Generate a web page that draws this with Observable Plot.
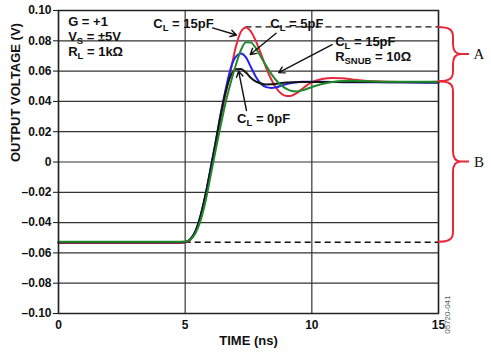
<!DOCTYPE html>
<html><head><meta charset="utf-8">
<script src="https://cdn.jsdelivr.net/npm/d3@7"></script>
<script src="https://cdn.jsdelivr.net/npm/@observablehq/plot@0.6"></script>
<style>
html,body{margin:0;padding:0;background:#fff;}
#chart{width:491px;height:358px;}
</style></head>
<body><div id="chart"></div>
<script>
// ---- data ----
const time = [0, 4.8, 5.0, 5.2, 5.4, 5.6, 5.8, 6.0, 6.2, 6.4, 6.6, 6.8, 7.0, 7.2, 7.4, 7.6, 7.8, 8.0, 8.2, 8.4, 8.6, 8.8, 9.0, 9.2, 9.4, 9.6, 9.8, 10.0, 10.4, 10.8, 11.2, 11.6, 12, 13, 14, 15];
const cl0pF = [-0.0530, -0.0530, -0.0528, -0.0510, -0.0460, -0.0360, -0.0220, -0.0050, 0.0125, 0.0310, 0.0465, 0.0570, 0.0612, 0.0614, 0.0590, 0.0555, 0.0530, 0.0518, 0.0512, 0.0513, 0.0517, 0.0521, 0.0524, 0.0526, 0.0527, 0.0528, 0.0528, 0.0528, 0.0528, 0.0528, 0.0528, 0.0528, 0.0528, 0.0527, 0.0527, 0.0527];
const cl5pF = [-0.0530, -0.0530, -0.0528, -0.0510, -0.0458, -0.0358, -0.0218, -0.0045, 0.0130, 0.0315, 0.0480, 0.0620, 0.0695, 0.0716, 0.0690, 0.0625, 0.0560, 0.0515, 0.0494, 0.0489, 0.0494, 0.0504, 0.0514, 0.0521, 0.0526, 0.0529, 0.0530, 0.0530, 0.0529, 0.0528, 0.0527, 0.0527, 0.0527, 0.0526, 0.0525, 0.0523];
const cl15pF = [-0.0534, -0.0534, -0.0532, -0.0515, -0.0465, -0.0368, -0.0230, -0.0060, 0.0115, 0.0290, 0.0455, 0.0605, 0.0760, 0.0860, 0.0888, 0.0860, 0.0795, 0.0710, 0.0620, 0.0545, 0.0487, 0.0450, 0.0436, 0.0438, 0.0455, 0.0480, 0.0506, 0.0526, 0.0548, 0.0555, 0.0552, 0.0545, 0.0538, 0.0530, 0.0528, 0.0530];
const cl15pFsnub = [-0.0526, -0.0526, -0.0525, -0.0512, -0.0472, -0.0390, -0.0262, -0.0095, 0.0075, 0.0240, 0.0395, 0.0525, 0.0640, 0.0738, 0.0790, 0.0788, 0.0748, 0.0692, 0.0635, 0.0582, 0.0538, 0.0505, 0.0482, 0.0469, 0.0466, 0.0471, 0.0482, 0.0495, 0.0515, 0.0528, 0.0535, 0.0536, 0.0534, 0.0530, 0.0530, 0.0529];

const seriesNames = ["CL = 15pF", "CL = 5pF", "CL = 0pF", "CL = 15pF, RSNUB = 10Ω"];
const seriesValues = [cl15pF, cl5pF, cl0pF, cl15pFsnub];
const seriesColors = ["#e8283a", "#2323f0", "#151515", "#1f8a2c"];

const xTicks = [0, 5, 10, 15];
const yTicks = [-0.10, -0.08, -0.06, -0.04, -0.02, 0, 0.02, 0.04, 0.06, 0.08, 0.10];
const stepTime = 5;
const settledLevel = 0.053;

const condLines = ["G = +1", "V_{S} = ±5V", "R_{L} = 1kΩ"];
const condX = [0.38, 0.38, 0.38];
const condY = [0.0926, 0.0828, 0.0730];

const noteText = ["C_{L} = 15pF", "C_{L} = 5pF", "C_{L} = 15pF", "R_{SNUB} = 10Ω", "C_{L} = 0pF"];
const noteX = [3.74, 8.36, 10.92, 10.92, 7.05];
const noteY = [0.0914, 0.0914, 0.0795, 0.0695, 0.0287];
const noteHalo = [false, false, true, true, false];

const arrowFromX = [6.08, 8.59, 10.80, 7.42];
const arrowFromY = [0.0885, 0.0850, 0.0775, 0.0340];
const arrowToX = [7.02, 7.57, 8.69, 7.11];
const arrowToY = [0.0838, 0.0710, 0.0590, 0.0600];

const braceLabels = ["A", "B"];
const yLabel = "OUTPUT VOLTAGE (V)";
const xLabel = "TIME (ns)";
const figCode = "05720-041";

// ---- derived tables ----
const peakIdx = d3.maxIndex(cl15pF);
const peakLevel = cl15pF[peakIdx];
const peakTime = time[peakIdx];
const baseLevel = cl15pF[0] + 0.0004;

const lineMarks = seriesValues.map((vals, k) =>
  Plot.line(vals.map((v, i) => ({t: time[i], v})), {
    x: "t", y: "v", stroke: seriesColors[k], strokeWidth: 2, curve: "monotone-x"
  })
);
const conds = condLines.map((s, i) => ({s, x: condX[i], y: condY[i]}));
const notes = noteText.map((s, i) => ({s, x: noteX[i], y: noteY[i], halo: noteHalo[i]}));
const haloed = conds.concat(notes.filter(d => d.halo));
const plain = notes.filter(d => !d.halo);
const arrows = arrowFromX.map((x1, i) => ({x1, y1: arrowFromY[i], x2: arrowToX[i], y2: arrowToY[i]}));

const yFmt = d => d === 0 ? "0" : (d < 0 ? "\u2013" : "") + Math.abs(d).toFixed(2);
const grid = {stroke: "#333", strokeOpacity: 1, strokeWidth: 1.2};
const txt = {x: "x", y: "y", text: "s", textAnchor: "start", fontSize: 13, fontWeight: "bold", fill: "#111"};

const plot = Plot.plot({
  width: 491, height: 358,
  marginLeft: 58, marginRight: 53, marginTop: 10, marginBottom: 45,
  x: {domain: [0, 15]},
  y: {domain: [-0.10, 0.10]},
  style: {fontFamily: "'Liberation Sans', Arial, Helvetica, sans-serif", fontSize: "12px", fontWeight: "bold", background: "white", color: "#111"},
  marks: [
    Plot.gridX(xTicks, grid),
    Plot.gridY(yTicks, grid),
    Plot.axisX(xTicks, {tickSize: 0, tickPadding: 7, tickFormat: d => String(d), label: null}),
    Plot.axisY(yTicks, {tickSize: 5, tickPadding: 2, tickFormat: yFmt, label: null}),
    Plot.text([yLabel], {frameAnchor: "left", dx: -43, rotate: -90, fontSize: 13, fontWeight: "bold"}),
    Plot.text([xLabel], {frameAnchor: "bottom", dy: 31, fontSize: 13, fontWeight: "bold"}),
    Plot.text([figCode], {frameAnchor: "bottom-right", dx: 11, dy: -18, rotate: -90, fontSize: 8, fontWeight: "normal", fill: "#555"}),
    Plot.ruleY([baseLevel], {x1: stepTime, x2: 15, stroke: "#111", strokeWidth: 1.4, strokeDasharray: "6,4"}),
    Plot.ruleY([peakLevel + 0.0004], {x1: peakTime, x2: 15, stroke: "#111", strokeWidth: 1.4, strokeDasharray: "6,4"}),
    ...lineMarks,
    Plot.text(haloed, {...txt, ariaLabel: "halo-text"}),
    Plot.text(plain, txt),
    Plot.arrow(arrows, {x1: "x1", y1: "y1", x2: "x2", y2: "y2", stroke: "#111", strokeWidth: 1.4, headLength: 7}),
    Plot.frame({stroke: "#222", strokeWidth: 1.5})
  ]
});

// subscripts: "X_{sub}" -> tspans
plot.querySelectorAll("text").forEach(t => {
  const s = t.textContent;
  if (!s.includes("_{")) return;
  while (t.firstChild) t.removeChild(t.firstChild);
  const re = /_\{([^}]*)\}/g;
  let last = 0, m, shifted = false;
  const add = (str, sub) => {
    const ts = document.createElementNS("http://www.w3.org/2000/svg", "tspan");
    ts.textContent = str;
    if (sub) { ts.setAttribute("font-size", "9.5"); ts.setAttribute("dy", "3.5"); shifted = true; }
    else if (shifted) { ts.setAttribute("dy", "-3.5"); shifted = false; }
    t.appendChild(ts);
  };
  while ((m = re.exec(s))) {
    if (m.index > last) add(s.slice(last, m.index), false);
    add(m[1], true);
    last = re.lastIndex;
  }
  if (last < s.length) add(s.slice(last), false);
});

document.getElementById("chart").appendChild(plot);

// white boxes behind the condition / snubber texts (they interrupt the grid)
const haloG = plot.querySelector('g[aria-label="halo-text"]');
if (haloG) {
  const texts = Array.from(haloG.querySelectorAll("text"));
  const bg = document.createElementNS("http://www.w3.org/2000/svg", "g");
  const tr = haloG.getAttribute("transform");
  if (tr) bg.setAttribute("transform", tr);
  texts.forEach(t => {
    const b = t.getBBox();
    const r = document.createElementNS("http://www.w3.org/2000/svg", "rect");
    const ttr = t.getAttribute("transform");
    if (ttr) r.setAttribute("transform", ttr);
    r.setAttribute("x", b.x - 5); r.setAttribute("y", b.y - 1);
    r.setAttribute("width", b.width + 10); r.setAttribute("height", b.height + 2);
    r.setAttribute("fill", "white");
    bg.appendChild(r);
  });
  haloG.parentNode.insertBefore(bg, haloG);
}

// curly braces A and B drawn with the plot's own scales
const xs = plot.scale("x"), ys = plot.scale("y");
const x0 = xs.apply(15);
function brace(ya, yb, w, tip, ext) {
  const ym = (ya + yb) / 2, r = Math.min(10, (yb - ya) / 4);
  const p = d3.path();
  p.moveTo(x0, ya);
  p.bezierCurveTo(x0 + w * 0.8, ya, x0 + w, ya + r * 0.3, x0 + w, ya + r);
  p.lineTo(x0 + w, ym - r);
  p.quadraticCurveTo(x0 + w, ym, x0 + w + tip, ym);
  p.quadraticCurveTo(x0 + w, ym, x0 + w, ym + r);
  p.lineTo(x0 + w, yb - r);
  p.bezierCurveTo(x0 + w, yb - r * 0.3, x0 + w * 0.8, yb, x0, yb);
  p.moveTo(x0 + w + tip, ym);
  p.lineTo(x0 + ext, ym);
  return p.toString();
}
const svg = d3.select(plot);
const spans = [[ys.apply(peakLevel), ys.apply(settledLevel)], [ys.apply(settledLevel), ys.apply(baseLevel)]];
spans.forEach(([ya, yb], i) => {
  svg.append("path").attr("d", brace(ya, yb, 15, 8, 31))
    .attr("fill", "none").attr("stroke", "#e8283a").attr("stroke-width", 2);
  svg.append("text").attr("x", x0 + 41).attr("y", (ya + yb) / 2).attr("dy", "0.35em")
    .attr("text-anchor", "middle").attr("font-family", "'Liberation Serif', 'Times New Roman', serif")
    .attr("font-weight", "normal").attr("font-size", 15).attr("fill", "#111").text(braceLabels[i]);
});
</script>
</body></html>
